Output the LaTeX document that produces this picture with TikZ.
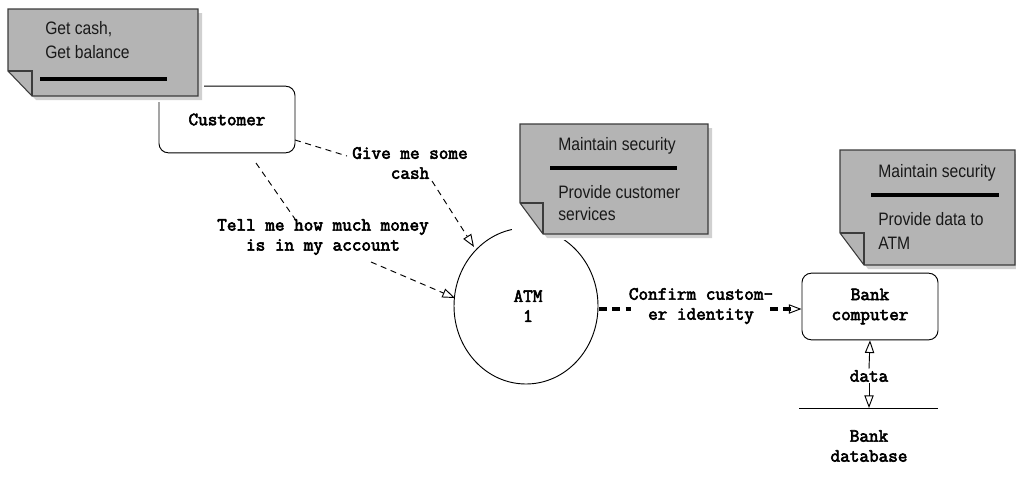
\documentclass[tikz,border=0pt]{standalone}
\usepackage{fontspec}
\setmainfont{Liberation Sans}
\newfontfamily\notefont[FakeStretch=0.87]{Liberation Sans}
\newfontfamily\codefont[FakeBold=3.2]{Latin Modern Mono}
\usetikzlibrary{arrows.meta}

\definecolor{notegray}{RGB}{180,180,180}
\definecolor{shadegray}{RGB}{208,208,208}
\definecolor{noteedge}{RGB}{60,60,60}

% sticky note: left, top, right, bottom, fold y, fold x
\newcommand\stickynote[6]{%
  \fill[white] (#1-8,#2-4) rectangle (#3+6,#4+6);
  \fill[shadegray] (#1+4,#2+4) -- (#3+4,#2+4) -- (#3+4,#4+4) -- (#6+4,#4+4) -- (#1+4,#5+4) -- cycle;
  \filldraw[fill=notegray,draw=noteedge,line width=0.8pt]
    (#1,#2) -- (#3,#2) -- (#3,#4) -- (#6,#4) -- (#1,#5) -- cycle;
  \draw[noteedge,line width=0.8pt] (#1,#5) -- (#6,#5) -- (#6,#4);
}

\tikzset{
  box/.style={draw, rounded corners=7pt, line width=0.7pt, fill=white,
    font=\codefont\fontsize{14}{15}\selectfont, align=center, inner sep=0pt},
  flowlabel/.style={font=\codefont\fontsize{14}{15}\selectfont, align=center, inner sep=1pt},
  notetext/.style={font=\notefont\fontsize{13.5}{16.5}\selectfont, align=left, anchor=west, inner sep=0pt, text=black!90},
  sep/.style={line width=2.4pt, black},
  flow/.style={dashed, dash pattern=on 4.5pt off 3.5pt, line width=0.7pt,
    -{Triangle[open,length=9.5pt,width=7pt]}},
  plainflow/.style={dashed, dash pattern=on 4.5pt off 3.5pt, line width=0.7pt},
  strongflow/.style={dash pattern=on 6pt off 4pt, line width=2.6pt},
  tip/.style={-{Triangle[open,length=9.5pt,width=7pt]}, line width=0.7pt},
}

\begin{document}
\begin{tikzpicture}[x=0.75pt,y=-0.75pt]
\useasboundingbox (0,0) rectangle (1016,479);

% ATM process
\draw[line width=0.7pt] (526,306) ellipse [x radius=72, y radius=78];
\node[inner sep=0pt, minimum width=144, minimum height=156] (atm) at (526,306) {};
\node[flowlabel, align=center] (atmtext) at (528,306) {ATM\\1};

% customer and bank computer
\node[box, minimum width=102pt, minimum height=50pt] (cust) at (227,119.5) {Customer};
\node[box, minimum width=102pt, minimum height=50pt] (bank) at (870,306.5) {Bank\\computer};

% sticky notes
\stickynote{8}{9}{198}{96}{71}{32}
\node[notetext, anchor=west] (n1a) at (45,29) {Get cash,};
\node[notetext, anchor=west] (n1b) at (45,52) {Get balance};
\draw[sep] (40,79) -- (167,79);

\stickynote{520}{124}{708}{234}{203}{543}
\node[notetext] (n2a) at (558,146) {Maintain security};
\draw[sep] (550,168) -- (677,168);
\node[notetext] (n2b) at (558,192) {Provide customer};
\node[notetext] (n2c) at (558,214) {services};

\stickynote{840}{150}{1015}{265}{233}{864}
\node[notetext] (n3a) at (878,173) {Maintain security};
\draw[sep] (871,195) -- (999,195);
\node[notetext] (n3b) at (878,219) {Provide data to};
\node[notetext] (n3c) at (878,243) {ATM};

% flows from the customer
\node[flowlabel] (cash) at (410,163) {Give me some\\cash};
\coordinate (c1a) at (295,140);
\coordinate (c1b) at (347,156);
\coordinate (c1c) at (432,181);
\coordinate (c1d) at (474,247);
\draw[plainflow] (c1a) -- (c1b);
\draw[flow] (c1c) -- (c1d);

\node[flowlabel] (money) at (323,237) {Tell me how much money\\is in my account};
\coordinate (c2a) at (256,163);
\coordinate (c2b) at (295,219);
\coordinate (c2c) at (371,262);
\coordinate (c2d) at (455,298);
\draw[plainflow] (c2a) -- (c2b);
\draw[flow] (c2c) -- (c2d);

% ATM to bank computer
\node[flowlabel] (confirm) at (701,306) {Confirm custom-\\er identity};
\coordinate (a1) at (599,309);
\coordinate (a2) at (631,309);
\coordinate (a3) at (770,309);
\coordinate (a4) at (791,309);
\draw[strongflow] (a1) -- (a2);
\draw[strongflow] (a3) -- (a4);
\draw[tip] (a4) -- (bank.west |- a4);

% data store
\node[flowlabel] (data) at (869,376) {data};
\coordinate (storeL) at (799,408);
\coordinate (storeR) at (938,408);
\draw[line width=0.7pt] (storeL) -- (storeR);
\draw[tip] (data.north) -- (bank.south);
\draw[tip] (data.south) -- (869,408);
\node[flowlabel] (db) at (869,446) {Bank\\database};
\end{tikzpicture}
\end{document}
